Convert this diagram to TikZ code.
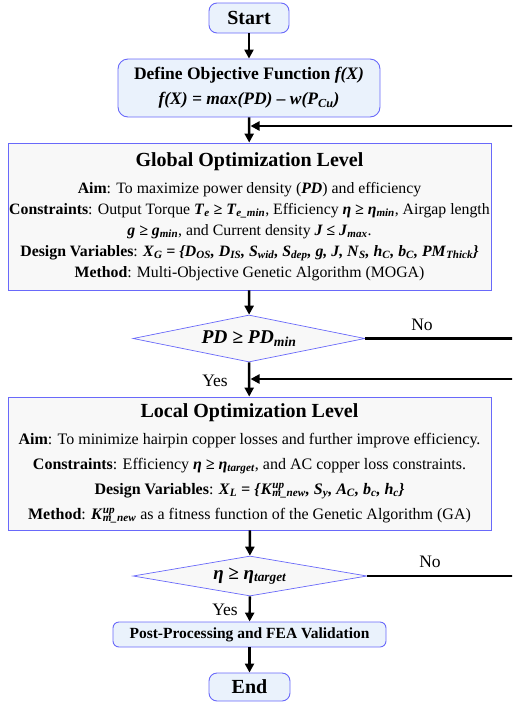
\documentclass[tikz,border=0pt]{standalone}
\usepackage{fontspec}
\setmainfont{Liberation Serif}
\usetikzlibrary{arrows.meta,shapes.geometric}
\definecolor{bord}{RGB}{105,105,250}
\definecolor{lblue}{RGB}{234,242,252}
\definecolor{lgray}{RGB}{248,248,248}
\newcommand{\bi}[1]{\textbf{\textit{#1}}}
\newcommand{\sbs}[1]{\textsubscript{\bi{#1}}}
\newcommand{\kup}{\bi{K}\makebox[0pt][l]{\textsuperscript{\bi{up}}}\sbs{m\_new}}
\begin{document}
\begin{tikzpicture}[x=1pt,y=-1pt,
  rbox/.style={draw=bord, fill=lblue, rounded corners=8pt, line width=0.9pt, inner sep=0pt, align=center},
  gbox/.style={draw=bord, fill=lgray, line width=0.9pt, inner sep=0pt, align=center},
  dec/.style={draw=bord, fill=lgray, diamond, aspect=4.9, line width=0.7pt, inner sep=0pt},
  arr/.style={line width=2.4pt, -{Triangle[length=9pt,width=9pt]}},
  lab/.style={font=\fontsize{17.5}{20}\selectfont}]
\useasboundingbox (0,0) rectangle (512,702);
\clip (0,0) rectangle (512,702);

\node[rbox, minimum width=80, minimum height=30, font=\fontsize{20}{24}\selectfont\bfseries] (start) at (249,18) {Start};
\node[rbox, rounded corners=10pt, minimum width=262, minimum height=58, font=\fontsize{17.5}{25}\selectfont\bfseries] (obj) at (249,88)
  {Define Objective Function \bi{f(X)}\\ \bi{f(X) = max(PD) – w(P\sbs{Cu})}};

\node[gbox, minimum width=483, minimum height=147, font=\fontsize{15.8}{21}\selectfont] (glob) at (249.5,216.5)
  {{\fontsize{20}{22}\selectfont\bfseries Global Optimization Level}\\[6pt]
   \textbf{Aim}: To maximize power density (\bi{PD}) and efficiency\\
   \textbf{Constraints}: Output Torque \bi{T}\sbs{e} \bi{≥ T}\sbs{e\_min}, Efficiency \bi{η ≥ η}\sbs{min}, Airgap length\\
   \bi{g ≥ g}\sbs{min}, and Current density \bi{J ≤ J}\sbs{max}.\\
   \textbf{Design Variables}: \bi{X}\sbs{G} \bi{= \{D}\sbs{OS}\bi{, D}\sbs{IS}\bi{, S}\sbs{wid}\bi{, S}\sbs{dep}\bi{, g, J, N}\sbs{S}\bi{, h}\sbs{C}\bi{, b}\sbs{C}\bi{, PM}\sbs{Thick}\bi{\}}\\
   \textbf{Method}: Multi-Objective Genetic Algorithm (MOGA)};

\node[dec, minimum width=232, minimum height=47, font=\fontsize{19.5}{22}\selectfont] (d1) at (249,338.5) {\bi{PD ≥ PD}\sbs{min}};

\node[gbox, minimum width=483, minimum height=133, font=\fontsize{16}{25}\selectfont] (loc) at (249.5,463.5)
  {{\fontsize{20}{22}\selectfont\bfseries Local Optimization Level}\\[2pt]
   \textbf{Aim}: To minimize hairpin copper losses and further improve efficiency.\\
   \textbf{Constraints}: Efficiency \bi{η ≥ η}\sbs{target}, and AC copper loss constraints.\\
   \textbf{Design Variables}: \bi{X}\sbs{L} \bi{= \{}\kup\bi{, S}\sbs{y}\bi{, A}\sbs{C}\bi{, b}\sbs{c}\bi{, h}\sbs{c}\bi{\}}\\
   \textbf{Method}: \kup{} as a fitness function of the Genetic Algorithm (GA)};

\node[dec, minimum width=234, minimum height=40, font=\fontsize{19}{22}\selectfont] (d2) at (250,576) {\bi{η ≥ η}\sbs{target}};

\node[rbox, rounded corners=6pt, minimum width=273, minimum height=25, font=\fontsize{15.5}{18}\selectfont\bfseries] (post) at (249.5,634.5) {Post-Processing and FEA Validation};
\node[rbox, minimum width=81, minimum height=28, font=\fontsize{20}{24}\selectfont\bfseries] (end) at (249.5,687) {End};

\coordinate (m1) at (249,126);
\coordinate (m2) at (249,379);
\coordinate (r1) at (530,338.5);
\coordinate (r2) at (530,576);

\draw[arr] (start) -- (obj);
\draw[arr] (obj) -- (glob);
\draw[arr] (glob) -- (d1);
\draw[arr] (d1) -- (loc);
\draw[arr] (loc) -- (d2);
\draw[arr] (d2) -- (post);
\draw[arr] (post) -- (end);

\draw[arr] (d1.east) -- (r1) |- ([xshift=1.5pt]m1);
\draw[arr] (d2.east) -- (r2) |- ([xshift=1.5pt]m2);

\node[lab] (no1) at (422,325) {No};
\node[lab] (no2) at (430,562) {No};
\node[lab] (yes1) at (215,381) {Yes};
\node[lab] (yes2) at (225,610) {Yes};
\end{tikzpicture}
\end{document}
